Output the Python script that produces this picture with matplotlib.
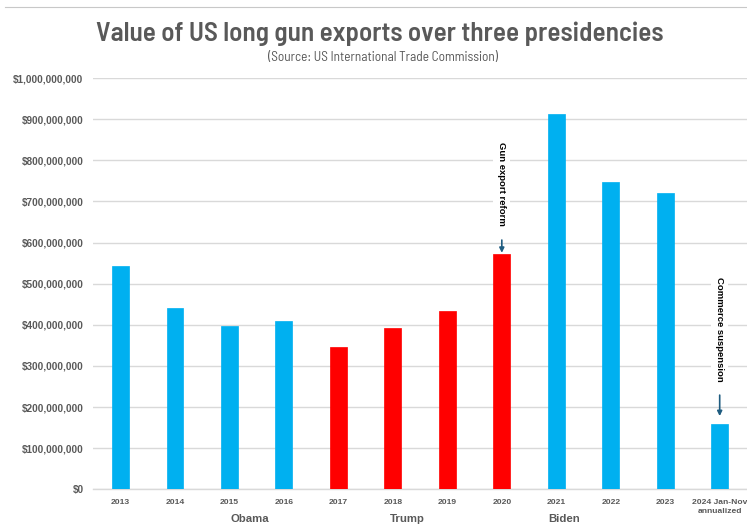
import matplotlib
matplotlib.use("Agg")
import matplotlib.pyplot as plt
from matplotlib.ticker import FuncFormatter

years = ["2013", "2014", "2015", "2016", "2017", "2018", "2019", "2020",
         "2021", "2022", "2023", "2024 Jan-Nov\nannualized"]
values = [544e6, 442e6, 397e6, 409e6, 347e6, 392e6, 434e6, 572e6,
          913e6, 748e6, 720e6, 158e6]
party = ["D", "D", "D", "D", "R", "R", "R", "R", "D", "D", "D", "D"]
presidents = ["Obama", "Trump", "Biden"]
president_pos = [2.38, 5.26, 8.15]
notes = ["Gun export reform", "Commerce suspension"]
note_idx = [7, 11]
note_text_y = [742e6, 390e6]
note_arrow = [(606e6, 575e6), (229e6, 178e6)]

colors = {"D": "#00B0F0", "R": "#FF0000"}
GRAY = "#595959"
GRID = "#D9D9D9"
NARROW = ["Barlow Semi Condensed", "Roboto Condensed", "IBM Plex Sans Condensed",
          "PT Sans Narrow", "DejaVu Sans"]
SANS = ["Liberation Sans", "DejaVu Sans"]

fig = plt.figure(figsize=(7.47, 5.25), dpi=100)
ax = fig.add_axes([0.1249, 0.068, 0.875, 0.7834])

x = list(range(len(years)))
ax.bar(x, values, width=0.31, color=[colors[p] for p in party], zorder=3,
       edgecolor=[colors[p] for p in party], linewidth=0.5)

ax.set_xlim(-0.5, len(years) - 0.5)
ax.set_ylim(0, 1e9)
ax.set_yticks([i * 1e8 for i in range(11)])
ax.yaxis.set_major_formatter(FuncFormatter(lambda v, p: "${:,.0f}".format(v)))
ax.grid(axis="y", color=GRID, linewidth=1.0, zorder=0)
ax.set_axisbelow(True)
for s in ["top", "right", "left"]:
    ax.spines[s].set_visible(False)
ax.spines["bottom"].set_color(GRID)
ax.spines["bottom"].set_linewidth(1.0)
ax.tick_params(axis="y", length=0, pad=7, labelsize=7.2, labelcolor=GRAY)
ax.tick_params(axis="x", length=0, pad=7, labelsize=6.1, labelcolor=GRAY)
ax.set_xticks(x)
ax.set_xticklabels(years, linespacing=1.3)
for lab in ax.get_yticklabels() + ax.get_xticklabels():
    lab.set_fontweight("bold")
    lab.set_family(SANS)

for name, px in zip(presidents, president_pos):
    ax.annotate(name, xy=(px, 0), xytext=(0, -21.4), textcoords="offset points",
                ha="center", va="center", fontsize=8.2, fontweight="bold",
                color=GRAY, family=SANS, annotation_clip=False)

for txt, i, ty, (a0, a1) in zip(notes, note_idx, note_text_y, note_arrow):
    ax.text(i, ty, txt, rotation=270, ha="center", va="center", fontsize=6.8,
            fontweight="bold", color="black", family=SANS, zorder=4,
            bbox=dict(facecolor="white", edgecolor="none", pad=3))
    ax.annotate("", xy=(i, a1), xytext=(i, a0), zorder=4,
                arrowprops=dict(arrowstyle="-|>", color="#1F5C80", lw=1.2,
                                mutation_scale=7, shrinkA=0, shrinkB=0))

fig.text(0.509, 1 - 34 / 525, "Value of US long gun exports over three presidencies",
         ha="center", va="center", fontsize=19.5, fontweight="semibold", color=GRAY,
         family=NARROW)
fig.text(0.513, 1 - 57 / 525, "(Source: US International Trade Commission)",
         ha="center", va="center", fontsize=9.6, color=GRAY, family=NARROW)

fig.add_artist(plt.Line2D([0.007, 1.0], [1 - 7 / 525, 1 - 7 / 525],
                          color="#C8C8C8", lw=0.8, transform=fig.transFigure))

fig.savefig("out.png", dpi=100)
